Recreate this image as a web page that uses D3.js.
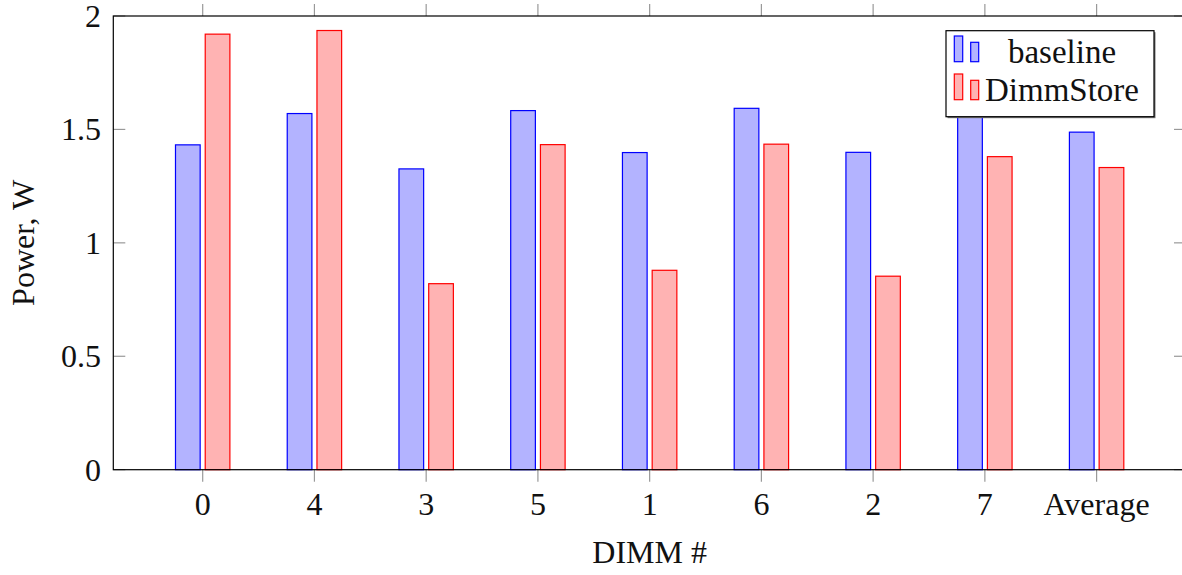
<!DOCTYPE html>
<html>
<head>
<meta charset="utf-8">
<script src="https://cdn.jsdelivr.net/npm/d3@7"></script>
<style>
  body { margin: 0; background: #fff; }
</style>
</head>
<body>
<svg class="barchart" width="1182" height="575" font-family="'Liberation Serif', serif"></svg>
<script>
// categories along x, in the order they appear
const dimms = ["0", "4", "3", "5", "1", "6", "2", "7", "Average"];
const seriesNames = ["baseline", "DimmStore"];
// power, W
const baseline  = [1.432, 1.570, 1.326, 1.583, 1.398, 1.593, 1.399, 1.603, 1.488];
const dimmStore = [1.920, 1.936, 0.820, 1.433, 0.879, 1.435, 0.853, 1.380, 1.332];
const yTicks = [0, 0.5, 1, 1.5, 2];

(function barChartIIFE() {
    const svg = d3.select("svg.barchart");
    const left = 113.3, right = 1186, top = 16, bottom = 469.7;
    const tickLen = 12;
    const fontSize = 32;

    const x = d3.scalePoint().domain(dimms).range([left, right]).padding(0.8);
    const inner = d3.scaleBand().domain(seriesNames).range([-27.2, 27.2]).paddingInner(0.17);
    const y = d3.scaleLinear().domain([0, 2]).range([bottom, top]);

    const colours = {
        baseline: { fill: "#b3b3ff", stroke: "#0000ff" },
        DimmStore: { fill: "#ffb3b3", stroke: "#ff0000" }
    };

    const rows = dimms.map(function(d, i) {
        return { dimm: d, values: [
            { key: "baseline", value: baseline[i] },
            { key: "DimmStore", value: dimmStore[i] }
        ]};
    });

    // bars
    const groups = svg.append("g").selectAll("g")
        .data(rows).enter().append("g")
        .attr("transform", function(d) { return "translate(" + x(d.dimm) + ",0)"; });

    groups.selectAll("rect")
        .data(function(d) { return d.values; })
        .enter().append("rect")
        .attr("x", function(d) { return inner(d.key); })
        .attr("width", inner.bandwidth())
        .attr("y", function(d) { return y(d.value); })
        .attr("height", function(d) { return y(0) - y(d.value); })
        .attr("fill", function(d) { return colours[d.key].fill; })
        .attr("stroke", function(d) { return colours[d.key].stroke; })
        .attr("stroke-width", 1.2);

    // tick marks
    const ticks = svg.append("g").attr("stroke", "#999").attr("stroke-width", 1.2);
    dimms.forEach(function(d) {
        ticks.append("line").attr("x1", x(d)).attr("x2", x(d)).attr("y1", bottom).attr("y2", bottom + tickLen);
        ticks.append("line").attr("x1", x(d)).attr("x2", x(d)).attr("y1", top).attr("y2", top - tickLen);
    });
    yTicks.forEach(function(t) {
        ticks.append("line").attr("x1", left).attr("x2", left + tickLen).attr("y1", y(t)).attr("y2", y(t));
        ticks.append("line").attr("x1", right).attr("x2", right - tickLen).attr("y1", y(t)).attr("y2", y(t));
    });

    // frame
    svg.append("rect")
        .attr("x", left).attr("y", top)
        .attr("width", right - left).attr("height", bottom - top)
        .attr("fill", "none").attr("stroke", "#000").attr("stroke-width", 1.2);

    // tick labels
    svg.append("g").selectAll("text")
        .data(dimms).enter().append("text")
        .attr("x", function(d) { return x(d); })
        .attr("y", 515)
        .attr("text-anchor", "middle")
        .attr("font-size", fontSize)
        .attr("fill", "#111")
        .text(function(d) { return d; });

    svg.append("g").selectAll("text")
        .data(yTicks).enter().append("text")
        .attr("x", 101)
        .attr("y", function(d) { return y(d) + 11; })
        .attr("text-anchor", "end")
        .attr("font-size", fontSize)
        .attr("fill", "#111")
        .text(function(d) { return d3.format("")(d); });

    // axis titles
    svg.append("text")
        .attr("x", (left + right) / 2).attr("y", 563)
        .attr("text-anchor", "middle")
        .attr("font-size", fontSize)
        .attr("fill", "#111")
        .text("DIMM #");

    svg.append("text")
        .attr("transform", "translate(34," + (top + bottom) / 2 + ") rotate(-90)")
        .attr("text-anchor", "middle")
        .attr("font-size", fontSize)
        .attr("fill", "#111")
        .text("Power, W");

    // legend
    const lg = svg.append("g").attr("transform", "translate(946,30.7)");
    lg.append("rect").attr("x", 1.5).attr("y", 1.5).attr("width", 208).attr("height", 86)
        .attr("fill", "#777");
    lg.append("rect").attr("width", 208).attr("height", 86)
        .attr("fill", "#fff").attr("stroke", "#000").attr("stroke-width", 1.2);

    seriesNames.forEach(function(name, i) {
        const row = lg.append("g").attr("transform", "translate(0," + (i * 38) + ")");
        row.append("rect").attr("x", 8.3).attr("y", 5.3).attr("width", 8.4).attr("height", 25.7)
            .attr("fill", colours[name].fill).attr("stroke", colours[name].stroke).attr("stroke-width", 1.2);
        row.append("rect").attr("x", 24.7).attr("y", 11.6).attr("width", 8).attr("height", 19.4)
            .attr("fill", colours[name].fill).attr("stroke", colours[name].stroke).attr("stroke-width", 1.2);
        row.append("text")
            .attr("x", 116).attr("y", 32)
            .attr("text-anchor", "middle")
            .attr("font-size", 33)
            .attr("fill", "#111")
            .text(name);
    });
})();
</script>
</body>
</html>
